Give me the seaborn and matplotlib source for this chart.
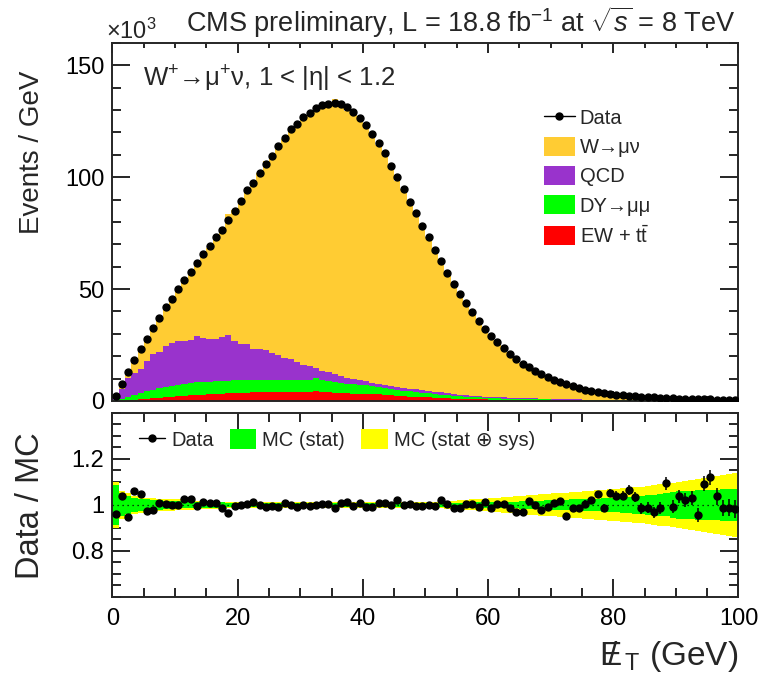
import numpy as np
import pandas as pd
import matplotlib
matplotlib.use("Agg")
import matplotlib.pyplot as plt
import seaborn as sns
from matplotlib.lines import Line2D
from matplotlib.patches import Patch
from matplotlib.ticker import MultipleLocator, FixedLocator

# ---------------- data (event counts in units of 10^3 per GeV) ----------------
bin_edges = list(range(0, 101))

data_k = [2.4, 7.7, 12.8, 18.3, 23.2, 27.8, 32.4, 36.9, 41.8, 45.7,
          49.9, 54.0, 57.7, 61.7, 65.5, 69.2, 73.1, 76.5, 80.9, 85.0,
          89.4, 94.2, 97.6, 102.1, 106.1, 109.7, 114.0, 117.7, 121.4, 124.0,
          126.9, 128.7, 131.1, 132.1, 132.9, 133.3, 132.7, 131.5, 129.0, 126.3,
          123.2, 119.2, 115.3, 110.7, 105.2, 100.3, 94.6, 89.1, 84.1, 78.0,
          73.1, 67.3, 62.5, 57.1, 52.2, 47.6, 43.9, 39.7, 35.7, 32.1,
          29.0, 26.2, 23.5, 20.8, 18.9, 16.7, 15.2, 13.4, 11.9, 10.7,
          9.5, 8.4, 7.4, 6.5, 5.8, 5.1, 4.5, 4.0, 3.6, 3.3,
          2.8, 2.5, 2.4, 2.2, 1.9, 1.8, 1.6, 1.4, 1.3, 1.2,
          1.1, 1.0, 0.9, 0.85, 0.8, 0.7, 0.65, 0.6, 0.55, 0.5]

w_k = [0.5, 2.2, 3.3, 4.7, 7.8, 10.8, 12.1, 14.8, 17.2, 20.0,
       22.9, 25.8, 29.1, 32.8, 36.2, 40.8, 44.7, 48.9, 54.3, 58.7,
       63.8, 68.2, 73.0, 79.0, 84.3, 88.6, 94.2, 97.5, 102.8, 107.5,
       110.7, 113.6, 116.3, 118.0, 119.6, 122.8, 120.3, 119.3, 119.7, 115.8,
       115.3, 111.8, 106.5, 102.7, 98.6, 92.1, 88.8, 83.6, 79.2, 73.4,
       68.5, 63.5, 57.4, 53.7, 49.7, 45.5, 41.4, 37.4, 34.0, 29.7,
       27.5, 24.5, 21.9, 19.6, 18.1, 15.9, 13.7, 12.25, 11.0, 9.8,
       8.55, 7.35, 6.9, 5.8, 5.15, 4.4, 3.75, 3.2, 3.1, 2.6,
       2.2, 1.95, 1.8, 1.7, 1.55, 1.5, 1.35, 1.1, 0.9, 0.95,
       0.8, 0.75, 0.65, 0.7, 0.55, 0.45, 0.45, 0.45, 0.4, 0.35]

qcd_k = [1.6, 4.2, 8.6, 10.0, 10.9, 13.2, 16.1, 16.0, 18.2, 18.9,
         19.9, 19.2, 19.2, 20.8, 19.8, 19.1, 19.0, 19.6, 20.3, 17.3,
         16.2, 16.1, 13.8, 13.6, 13.4, 12.0, 11.0, 9.8, 9.1, 7.9,
         6.7, 6.2, 4.7, 4.4, 3.9, 3.5, 3.0, 2.5, 2.1, 1.9,
         1.7, 1.4, 1.3, 1.1, 1.1, 1.1, 1.2, 1.2, 1.2, 1.2,
         1.2, 1.1, 1.0, 0.8, 0.7, 0.6, 0.6, 0.6, 0.5, 0.5,
         0.5, 0.5, 0.5, 0.5, 0.45, 0.4, 0.35, 0.35, 0.35, 0.3,
         0.3, 0.28, 0.26, 0.24, 0.22, 0.2, 0.19, 0.18, 0.16, 0.15,
         0.14, 0.13, 0.12, 0.11, 0.1, 0.1, 0.09, 0.08, 0.08, 0.07,
         0.07, 0.06, 0.06, 0.06, 0.05, 0.05, 0.05, 0.04, 0.04, 0.04]

dy_k = [0.35, 0.85, 1.3, 2.05, 2.7, 3.6, 3.7, 4.4, 4.8, 5.0,
        5.0, 5.4, 5.4, 5.6, 5.7, 5.6, 5.6, 5.6, 5.7, 5.8,
        5.8, 5.8, 5.7, 5.7, 5.6, 5.6, 5.6, 5.6, 5.5, 5.5,
        5.6, 5.5, 5.5, 5.3, 5.1, 4.8, 4.6, 4.4, 4.3, 4.1,
        4.0, 3.8, 3.5, 3.2, 2.9, 2.6, 2.4, 2.3, 2.1, 1.9,
        1.8, 1.6, 1.5, 1.4, 1.3, 1.1, 1.0, 0.9, 0.85, 0.8,
        0.65, 0.6, 0.55, 0.5, 0.5, 0.48, 0.45, 0.43, 0.4, 0.38,
        0.35, 0.33, 0.3, 0.28, 0.26, 0.24, 0.22, 0.2, 0.19, 0.18,
        0.17, 0.16, 0.15, 0.14, 0.13, 0.12, 0.11, 0.1, 0.09, 0.09,
        0.08, 0.08, 0.07, 0.07, 0.06, 0.06, 0.06, 0.05, 0.05, 0.05]

ew_k = [0.05, 0.15, 0.3, 0.45, 0.7, 0.9, 1.2, 1.3, 1.6, 1.8,
        2.1, 2.2, 2.5, 2.7, 2.8, 3.0, 3.2, 3.3, 3.4, 3.5,
        3.6, 3.7, 3.8, 3.8, 3.9, 3.9, 4.0, 4.0, 4.0, 4.0,
        3.9, 3.9, 4.6, 3.9, 3.8, 3.7, 3.5, 3.4, 3.3, 3.2,
        3.1, 3.0, 2.9, 2.8, 2.6, 2.4, 2.2, 2.0, 1.9, 1.8,
        1.6, 1.5, 1.3, 1.2, 1.1, 1.0, 0.9, 0.8, 0.75, 0.7,
        0.65, 0.6, 0.55, 0.5, 0.45, 0.42, 0.4, 0.37, 0.35, 0.32,
        0.3, 0.28, 0.26, 0.24, 0.22, 0.2, 0.19, 0.18, 0.17, 0.16,
        0.15, 0.14, 0.13, 0.12, 0.11, 0.1, 0.1, 0.09, 0.09, 0.08,
        0.08, 0.07, 0.07, 0.06, 0.06, 0.06, 0.05, 0.05, 0.05, 0.04]

ratio = [0.959, 1.038, 0.949, 1.062, 1.048, 0.975, 0.980, 1.010, 1.006, 1.001,
         1.000, 1.027, 1.027, 0.996, 1.015, 1.010, 1.008, 0.989, 0.966, 0.996,
         1.001, 1.004, 1.014, 0.999, 0.990, 0.996, 0.993, 1.007, 0.999, 0.993,
         0.999, 0.996, 1.001, 1.004, 1.004, 0.989, 1.010, 1.015, 0.997, 1.010,
         0.993, 0.993, 1.010, 1.008, 0.999, 1.021, 1.001, 1.004, 0.996, 0.996,
         0.999, 0.994, 1.021, 1.003, 0.989, 0.987, 1.006, 1.004, 0.990, 1.013,
         0.989, 1.006, 1.004, 0.986, 0.969, 0.969, 1.018, 1.000, 0.980, 0.990,
         1.007, 1.018, 0.954, 0.986, 0.985, 1.006, 1.021, 1.046, 0.987, 1.052,
         1.041, 1.041, 1.066, 1.035, 0.985, 0.987, 0.968, 0.985, 1.094, 0.992,
         1.038, 1.020, 1.030, 0.956, 1.092, 1.120, 1.037, 0.987, 0.989, 0.982]

ratio_err = [0.006, 0.005, 0.004, 0.004, 0.003, 0.003, 0.003, 0.003, 0.003, 0.003,
             0.003, 0.003, 0.003, 0.003, 0.003, 0.003, 0.003, 0.003, 0.003, 0.003,
             0.003, 0.003, 0.003, 0.003, 0.003, 0.003, 0.003, 0.003, 0.003, 0.003,
             0.003, 0.003, 0.003, 0.003, 0.003, 0.003, 0.003, 0.003, 0.003, 0.003,
             0.003, 0.003, 0.003, 0.003, 0.003, 0.003, 0.003, 0.003, 0.003, 0.003,
             0.003, 0.003, 0.004, 0.004, 0.004, 0.004, 0.004, 0.004, 0.005, 0.005,
             0.005, 0.005, 0.006, 0.006, 0.007, 0.007, 0.008, 0.008, 0.009, 0.009,
             0.010, 0.011, 0.012, 0.012, 0.013, 0.014, 0.015, 0.016, 0.017, 0.018,
             0.019, 0.020, 0.021, 0.022, 0.023, 0.024, 0.025, 0.026, 0.027, 0.028,
             0.029, 0.030, 0.031, 0.032, 0.033, 0.034, 0.035, 0.036, 0.037, 0.038]

stat_band = [0.085, 0.050, 0.040, 0.030, 0.028, 0.025, 0.022, 0.020, 0.018, 0.017,
             0.016, 0.015, 0.014, 0.013, 0.012, 0.012, 0.011, 0.011, 0.010, 0.010,
             0.009, 0.009, 0.009, 0.009, 0.009, 0.009, 0.009, 0.009, 0.009, 0.009,
             0.008, 0.008, 0.008, 0.008, 0.008, 0.008, 0.008, 0.008, 0.008, 0.008,
             0.008, 0.008, 0.008, 0.008, 0.008, 0.008, 0.008, 0.008, 0.008, 0.008,
             0.009, 0.009, 0.009, 0.009, 0.009, 0.010, 0.010, 0.011, 0.011, 0.012,
             0.012, 0.013, 0.014, 0.015, 0.015, 0.016, 0.017, 0.018, 0.019, 0.020,
             0.021, 0.022, 0.023, 0.024, 0.025, 0.026, 0.027, 0.028, 0.029, 0.030,
             0.032, 0.034, 0.036, 0.038, 0.040, 0.042, 0.045, 0.048, 0.050, 0.055,
             0.060, 0.062, 0.062, 0.065, 0.065, 0.066, 0.067, 0.068, 0.068, 0.070]

tot_band = [0.100, 0.060, 0.050, 0.040, 0.035, 0.032, 0.030, 0.028, 0.026, 0.025,
            0.024, 0.022, 0.020, 0.019, 0.018, 0.017, 0.016, 0.015, 0.015, 0.014,
            0.013, 0.013, 0.013, 0.013, 0.013, 0.013, 0.013, 0.013, 0.013, 0.013,
            0.012, 0.012, 0.012, 0.012, 0.012, 0.012, 0.012, 0.012, 0.012, 0.012,
            0.012, 0.012, 0.012, 0.012, 0.012, 0.012, 0.012, 0.012, 0.012, 0.012,
            0.013, 0.014, 0.015, 0.017, 0.019, 0.020, 0.022, 0.024, 0.026, 0.028,
            0.030, 0.032, 0.034, 0.036, 0.038, 0.040, 0.042, 0.044, 0.046, 0.048,
            0.050, 0.052, 0.054, 0.056, 0.058, 0.060, 0.062, 0.064, 0.066, 0.068,
            0.070, 0.072, 0.075, 0.078, 0.080, 0.083, 0.086, 0.090, 0.093, 0.097,
            0.100, 0.104, 0.108, 0.112, 0.116, 0.120, 0.125, 0.130, 0.135, 0.140]

processes = ["W", "QCD", "DY", "EW"]
colors = {"W": "#FFCC33", "QCD": "#9933CC", "DY": "#00FF00", "EW": "#FF0000"}

# ---------------- style ----------------
sns.set_theme(style="ticks")
plt.rcParams["font.family"] = ["Liberation Sans", "DejaVu Sans"]
plt.rcParams["mathtext.fontset"] = "custom"
plt.rcParams["mathtext.rm"] = "Liberation Sans"
plt.rcParams["mathtext.it"] = "Liberation Sans:italic"
plt.rcParams["mathtext.bf"] = "Liberation Sans:bold"
plt.rcParams["axes.linewidth"] = 1.4

fig = plt.figure(figsize=(7.61, 6.77), dpi=100)
ax = fig.add_axes([0.1478, 0.4077, 0.8226, 0.5288])
axr = fig.add_axes([0.1478, 0.1182, 0.8226, 0.2718])

centers = [e + 0.5 for e in bin_edges[:-1]]
n = len(centers)
df = pd.DataFrame({
    "met": centers * 4,
    "events": w_k + qcd_k + dy_k + ew_k,
    "process": ["W"] * n + ["QCD"] * n + ["DY"] * n + ["EW"] * n,
})

sns.histplot(data=df, x="met", weights="events", hue="process",
             hue_order=processes, bins=bin_edges, multiple="stack",
             element="step", fill=True, palette=colors, alpha=1.0,
             linewidth=0, legend=False, ax=ax)

ax.plot(centers, data_k, linestyle="none", marker="o", markersize=5.0,
        color="black", zorder=5)

ax.set_xlim(0, 100)
ax.set_ylim(0, 160)
ax.set_xlabel("")
ax.set_ylabel("")
ax.xaxis.set_major_locator(MultipleLocator(20))
ax.xaxis.set_minor_locator(MultipleLocator(5))
ax.yaxis.set_major_locator(MultipleLocator(50))
ax.yaxis.set_minor_locator(MultipleLocator(10))
ax.tick_params(axis="x", which="both", labelbottom=False)
ax.tick_params(axis="both", which="both", direction="in", top=True, right=True,
               width=1.2, labelsize=17, colors="black")
ax.tick_params(axis="x", which="major", length=7)
ax.tick_params(axis="x", which="minor", length=3.5)
ax.tick_params(axis="y", which="major", length=13)
ax.tick_params(axis="y", which="minor", length=6.5)
ax.tick_params(axis="y", pad=6)

handles = [Line2D([], [], color="black", marker="o", markersize=5.0, lw=1.0)]
handles += [Patch(facecolor=colors[p], edgecolor="none") for p in processes]
labels = ["Data", "W→μν", "QCD", "DY→μμ", r"EW + t$\bar{\mathrm{t}}$"]
ax.legend(handles, labels, loc="upper left", bbox_to_anchor=(0.677, 0.842),
          frameon=False, fontsize=14.5, handlelength=1.5, handleheight=1.05,
          labelspacing=0.45, handletextpad=0.25, borderaxespad=0)

ax.text(0.049, 0.9, r"W$^{+}$→μ$^{+}$ν, 1 < |η| < 1.2", transform=ax.transAxes,
        fontsize=18.5, ha="left", va="center")

fig.text(0.967, 0.953, r"CMS preliminary, L = 18.8 fb$^{-1}$ at $\sqrt{s}$ = 8 TeV",
         fontsize=19.5, ha="right", va="baseline")
fig.text(0.139, 0.943, r"×10$^{3}$", fontsize=17, ha="left", va="baseline")
fig.text(0.042, 0.775, "Events / GeV", fontsize=20, rotation=90,
         ha="center", va="center")

# ---------------- ratio panel ----------------
axr.stairs([1 + t for t in tot_band], bin_edges,
           baseline=[1 - t for t in tot_band], fill=True, color="#FFFF00", lw=0)
axr.stairs([1 + s for s in stat_band], bin_edges,
           baseline=[1 - s for s in stat_band], fill=True, color="#00FF00", lw=0)
axr.axhline(1.0, color="black", lw=0.9, ls=(0, (1, 3)))
axr.errorbar(centers, ratio, yerr=ratio_err, fmt="o", markersize=5.0,
             color="black", elinewidth=1.1, capsize=0, zorder=5)

axr.set_xlim(0, 100)
axr.set_ylim(0.6, 1.4)
axr.xaxis.set_major_locator(MultipleLocator(20))
axr.xaxis.set_minor_locator(MultipleLocator(5))
axr.yaxis.set_major_locator(FixedLocator([0.8, 1.0, 1.2]))
axr.yaxis.set_minor_locator(MultipleLocator(0.05))
axr.set_yticklabels(["0.8", "1", "1.2"])
axr.tick_params(axis="both", which="both", direction="in", top=True, right=True,
                width=1.2, labelsize=17, colors="black")
axr.tick_params(axis="x", which="major", length=13, pad=8)
axr.tick_params(axis="x", which="minor", length=6.5)
axr.tick_params(axis="y", which="major", length=13, pad=6)
axr.tick_params(axis="y", which="minor", length=6.5)
axr.set_xlabel("")
axr.set_ylabel("")

rh = [Line2D([], [], color="black", marker="o", markersize=5.0, lw=1.0),
      Patch(facecolor="#00FF00", edgecolor="none"),
      Patch(facecolor="#FFFF00", edgecolor="none")]
axr.legend(rh, ["Data", "MC (stat)", "MC (stat ⊕ sys)"], loc="upper left",
           bbox_to_anchor=(0.03, 0.955), ncol=3, frameon=False, fontsize=14.5,
           handlelength=1.3, handleheight=1.1, handletextpad=0.3,
           columnspacing=0.8, borderaxespad=0)

fig.text(0.04, 0.253, "Data / MC", fontsize=23.5, rotation=90,
         ha="center", va="center")
fig.text(0.970, 0.030, r"$\mathrm{E}\!\!\!/\;{}_{\mathrm{T}}$ (GeV)", fontsize=24,
         ha="right", va="center")

fig.savefig("out.png", dpi=100, facecolor="white")
